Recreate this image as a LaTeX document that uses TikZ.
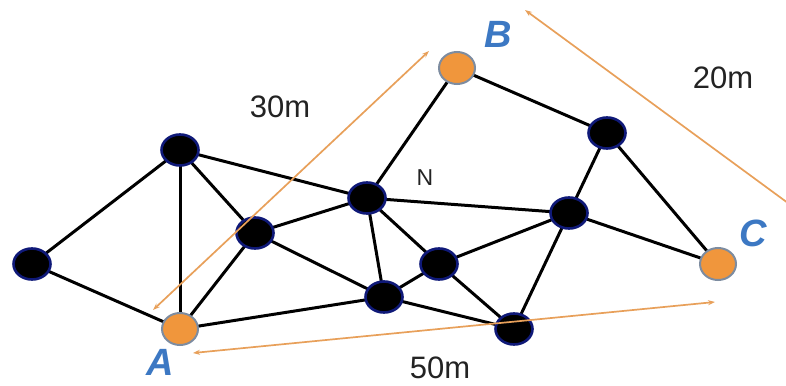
\documentclass[tikz,border=0pt]{standalone}
\usepackage{fontspec}
\setmainfont{Liberation Sans}
\usetikzlibrary{shapes.geometric,arrows.meta,backgrounds}
\definecolor{nodeorange}{RGB}{240,150,60}
\definecolor{arroworange}{RGB}{232,160,90}
\definecolor{navyrim}{RGB}{15,25,120}
\definecolor{grayrim}{RGB}{125,140,160}
\definecolor{labelblue}{RGB}{60,120,195}
\definecolor{textgray}{RGB}{35,35,35}
\tikzset{
  blacknode/.style={ellipse,fill=black,draw=navyrim,line width=2.6pt,minimum width=37pt,minimum height=31pt,inner sep=0pt},
  orangenode/.style={ellipse,fill=nodeorange,draw=grayrim,line width=2pt,minimum width=36pt,minimum height=32pt,inner sep=0pt},
  link/.style={line width=3pt,black},
  measure/.style={line width=1.7pt,arroworange},
  dist/.style={text=textgray,font=\fontsize{31}{31}\selectfont,inner sep=0pt},
  letter/.style={text=labelblue,font=\fontsize{38}{38}\selectfont\bfseries\itshape,inner sep=0pt},
}
\begin{document}
\begin{tikzpicture}[x=1pt,y=-1pt]
\useasboundingbox (0,0) rectangle (786,385);
% nodes
\node[orangenode] (A) at (180,329) {};
\node[orangenode] (B) at (457,68) {};
\node[orangenode] (C) at (718,264) {};
\node[blacknode] (L) at (32,264) {};
\node[blacknode] (UL) at (180,150) {};
\node[blacknode] (M) at (255,233) {};
\node[blacknode] (N) at (367,198) {};
\node[blacknode] (P) at (384,297) {};
\node[blacknode] (Q) at (439,264) {};
\node[blacknode] (R) at (569,213) {};
\node[blacknode] (S) at (514,329) {};
\node[blacknode] (T) at (607,133) {};
% edges
\begin{pgfonlayer}{background}
\fill[white] (0,0) rectangle (786,385);
\draw[link] (L.center) -- (UL.center);
\draw[link] (L.center) -- (A.center);
\draw[link] (UL.center) -- (A.center);
\draw[link] (UL.center) -- (M.center);
\draw[link] (UL.center) -- (N.center);
\draw[link] (M.center) -- (A.center);
\draw[link] (M.center) -- (N.center);
\draw[link] (M.center) -- (P.center);
\draw[link] (A.center) -- (P.center);
\draw[link] (N.center) -- (B.center);
\draw[link] (N.center) -- (R.center);
\draw[link] (N.center) -- (P.center);
\draw[link] (N.center) -- (Q.center);
\draw[link] (P.center) -- (Q.center);
\draw[link] (P.center) -- (S.center);
\draw[link] (Q.center) -- (S.center);
\draw[link] (Q.center) -- (R.center);
\draw[link] (R.center) -- (S.center);
\draw[link] (R.center) -- (C.center);
\draw[link] (R.center) -- (T.center);
\draw[link] (T.center) -- (C.center);
\draw[link] (B.center) -- (T.center);
\end{pgfonlayer}
% measurement arrows
\coordinate (m30a) at (153,310);
\coordinate (m30b) at (429,51);
\coordinate (m20a) at (525,10);
\coordinate (m20b) at (792,206);
\coordinate (m50a) at (193,353);
\coordinate (m50b) at (715,302);
\draw[measure,{Stealth[length=7pt,width=5pt]}-{Stealth[length=7pt,width=5pt]}] (m30a) -- (m30b);
\draw[measure,{Stealth[length=7pt,width=5pt]}-] (m20a) -- (m20b);
\draw[measure,{Stealth[length=7pt,width=5pt]}-{Stealth[length=7pt,width=5pt]}] (m50a) -- (m50b);
% labels
\node[dist] (t30) at (280,107) {30m};
\node[dist] (t20) at (723,78) {20m};
\node[dist] (t50) at (440,368) {50m};
\node[text=textgray,font=\fontsize{23}{23}\selectfont,inner sep=0pt] (tN) at (425,178) {N};
\node[letter] (lA) at (160,362) {A};
\node[letter] (lB) at (498,34) {B};
\node[letter] (lC) at (753,233) {C};
\end{tikzpicture}
\end{document}
